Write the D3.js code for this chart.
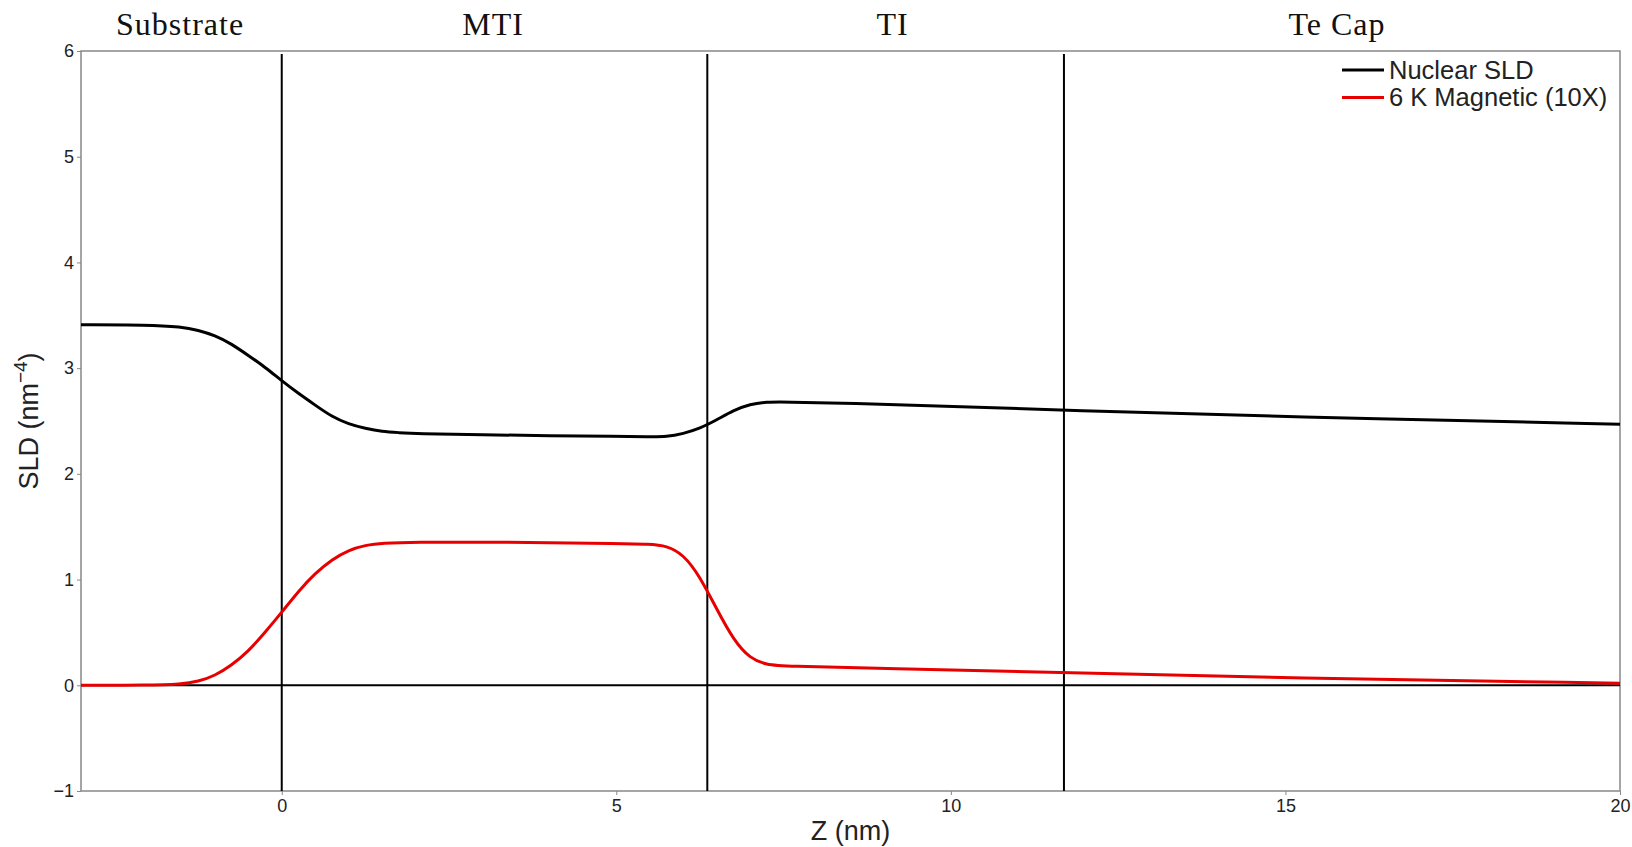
<!DOCTYPE html>
<html>
<head>
<meta charset="utf-8" />
<title>SLD profile</title>
<script src="https://d3js.org/d3.v7.min.js"></script>
<style>
body { margin: 0; background: #fff; }
.tick text { font-family: "Liberation Sans", Arial, sans-serif; font-size: 18px; fill: #222; }
.tick line { stroke: #888; }
.layer-label { font-family: "Liberation Serif", "Times New Roman", serif; font-size: 32px; fill: #111; letter-spacing: 1px; }
.axis-title, .legend text { font-family: "Liberation Sans", Arial, sans-serif; fill: #222; }
</style>
</head>
<body>
<div id="viz"></div>
<script>
// depth (nm) and SLD values
var zNuclear = [-3, -2, -1.5, -1.25, -1, -0.75, -0.5, -0.25, 0, 0.25, 0.5, 0.75, 1, 1.25, 1.5, 1.75, 2, 3, 4, 5, 5.5, 5.75, 6, 6.25, 6.5, 6.75, 7, 7.25, 7.5, 8.5, 10, 11.7, 15, 20];
var nuclearSLD = [3.41, 3.41, 3.39, 3.36, 3.31, 3.23, 3.12, 3.01, 2.88, 2.76, 2.65, 2.54, 2.47, 2.43, 2.40, 2.39, 2.38, 2.37, 2.36, 2.355, 2.35, 2.35, 2.38, 2.43, 2.51, 2.60, 2.66, 2.68, 2.68, 2.67, 2.64, 2.60, 2.54, 2.47];

var zMagnetic = [-3, -2, -1.5, -1.25, -1, -0.75, -0.5, -0.25, 0, 0.25, 0.5, 0.75, 1, 1.25, 1.5, 2, 3, 4, 5, 5.5, 5.75, 6, 6.25, 6.5, 6.75, 7, 7.25, 7.5, 9, 11.7, 15, 20];
var magneticSLD = [0, 0, 0.01, 0.035, 0.09, 0.19, 0.32, 0.50, 0.69, 0.89, 1.06, 1.19, 1.28, 1.325, 1.345, 1.355, 1.355, 1.35, 1.34, 1.335, 1.32, 1.24, 1.03, 0.72, 0.43, 0.25, 0.195, 0.18, 0.16, 0.12, 0.07, 0.02];

// layer boundaries and names
var interfaces = [0, 6.36, 11.69];
var layerNames = ["Substrate", "MTI", "TI", "Te Cap"];
var layerCenters = [-1.52, 3.16, 9.13, 15.77];

var xTicks = [0, 5, 10, 15, 20];
var yTicks = [-1, 0, 1, 2, 3, 4, 5, 6];
var legendLabels = ["Nuclear SLD", "6 K Magnetic (10X)"];
var seriesColors = ["#000000", "#e80000"];

var W = 1632, H = 847;
var margin = {left: 81, right: 12, top: 51, bottom: 56};
var width = W - margin.left - margin.right,
    height = H - margin.top - margin.bottom;

var svg = d3.select("#viz").append("svg")
    .attr("width", W)
    .attr("height", H);

var g = svg.append("g")
    .attr("transform", "translate(" + margin.left + "," + margin.top + ")");

var x = d3.scaleLinear().domain([-3, 20]).range([0, width]),
    y = d3.scaleLinear().domain([-1, 6]).range([height, 0]);

// clip for the data lines
g.append("clipPath").attr("id", "plotclip")
  .append("rect").attr("width", width).attr("height", height);

// axes
g.append("g")
    .attr("transform", "translate(0," + height + ")")
    .call(d3.axisBottom(x).tickValues(xTicks).tickFormat(d3.format("d")).tickSize(4).tickPadding(4))
    .call(function(s) { s.select(".domain").remove(); });

g.append("g")
    .call(d3.axisLeft(y).tickValues(yTicks).tickFormat(d3.format("d")).tickSize(4).tickPadding(3))
    .call(function(s) { s.select(".domain").remove(); });

// frame
g.append("rect")
    .attr("width", width)
    .attr("height", height)
    .attr("fill", "none")
    .attr("stroke", "#888")
    .attr("stroke-width", 1.5);

// zero line
g.append("line")
    .attr("x1", 0).attr("x2", width)
    .attr("y1", y(0)).attr("y2", y(0))
    .attr("stroke", "#000")
    .attr("stroke-width", 2);

// interface lines
g.selectAll(".iface")
  .data(interfaces)
  .enter().append("line")
    .attr("class", "iface")
    .attr("x1", function(d) { return x(d); })
    .attr("x2", function(d) { return x(d); })
    .attr("y1", 3)
    .attr("y2", height)
    .attr("stroke", "#000")
    .attr("stroke-width", 2);

var line = d3.line()
    .x(function(d) { return x(d[0]); })
    .y(function(d) { return y(d[1]); })
    .curve(d3.curveBasis);

var series = [
  d3.zip(zNuclear, nuclearSLD),
  d3.zip(zMagnetic, magneticSLD)
];

g.append("g").attr("clip-path", "url(#plotclip)")
  .selectAll("path")
  .data(series)
  .enter().append("path")
    .attr("d", line)
    .attr("fill", "none")
    .attr("stroke", function(d, i) { return seriesColors[i]; })
    .attr("stroke-width", 3)
    .attr("stroke-linejoin", "round");

// layer names above the plot
svg.selectAll(".layer-label")
  .data(layerNames)
  .enter().append("text")
    .attr("class", "layer-label")
    .attr("x", function(d, i) { return margin.left + x(layerCenters[i]); })
    .attr("y", 35)
    .attr("text-anchor", "middle")
    .text(function(d) { return d; });

// legend
var legend = svg.append("g").attr("class", "legend")
    .attr("transform", "translate(1342,70)");

var item = legend.selectAll("g")
  .data(legendLabels)
  .enter().append("g")
    .attr("transform", function(d, i) { return "translate(0," + i * 27.5 + ")"; });

item.append("line")
    .attr("x1", 0).attr("x2", 42)
    .attr("stroke", function(d, i) { return seriesColors[i]; })
    .attr("stroke-width", 3);

item.append("text")
    .attr("x", 47)
    .attr("dy", "0.35em")
    .style("font-size", "25.5px")
    .text(function(d) { return d; });

// axis titles
svg.append("text")
    .attr("class", "axis-title")
    .attr("x", margin.left + width / 2)
    .attr("y", 840)
    .attr("text-anchor", "middle")
    .style("font-size", "27px")
    .text("Z (nm)");

var yt = svg.append("text")
    .attr("class", "axis-title")
    .attr("transform", "translate(38," + (margin.top + height / 2) + ") rotate(-90)")
    .attr("text-anchor", "middle")
    .style("font-size", "27px");
yt.append("tspan").text("SLD (nm");
yt.append("tspan").attr("dy", -11).style("font-size", "19px").text("\u22124");
yt.append("tspan").attr("dy", 11).text(")");
</script>
</body>
</html>
